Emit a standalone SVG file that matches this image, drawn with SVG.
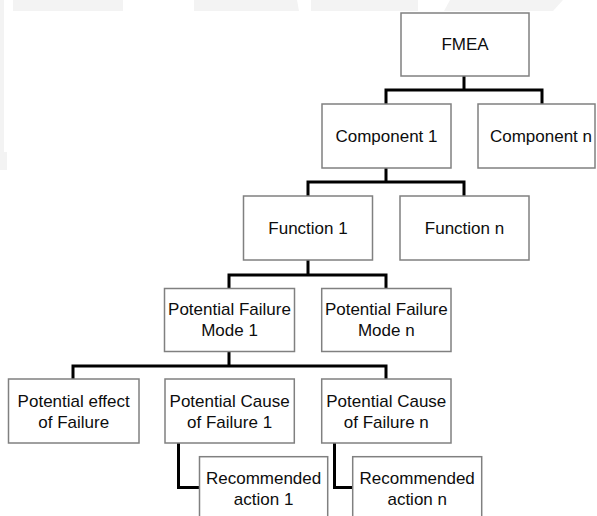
<svg xmlns="http://www.w3.org/2000/svg" width="597" height="516" viewBox="0 0 597 516">
  <style>
    .box { fill: #ffffff; stroke: #808080; stroke-width: 1.5; }
    .lbl { font-family: "Liberation Sans", Arial, sans-serif; font-size: 17px; fill: #0d0d0d; text-anchor: middle; }
    .conn { fill: none; stroke: #000000; stroke-width: 3; stroke-linejoin: miter; }
    .bg { fill: #f3f3f3; }
  </style>
  <rect width="597" height="516" fill="#ffffff"/>
  <g id="background">
    <rect class="bg" x="13" y="0" width="110" height="11"/>
    <path class="bg" d="M194,0 H297 L299,11 H194 Z"/>
    <rect class="bg" x="311" y="0" width="107" height="11"/>
    <path class="bg" d="M450,0 H563 L553,11 H444 Z"/>
    <rect class="bg" x="0" y="0" width="4" height="152"/>
    <rect class="bg" x="0" y="152" width="7" height="18"/>
  </g>
  <g id="connectors">
    <path class="conn" d="M464,76 V90 M386,104 V90 H542 V104"/>
    <path class="conn" d="M386,168 V182 M308,196 V182 H464 V196"/>
    <path class="conn" d="M308,260 V275 M229,288.5 V275 H386 V288.5"/>
    <path class="conn" d="M229,351.5 V366 M73,379 V366 H386 V379"/>
    <path class="conn" d="M178.5,443 V487.5 H199.5"/>
    <path class="conn" d="M334.5,443 V487.5 H352.7"/>
  </g>
  <g id="fmea">
    <rect class="box" x="401" y="13" width="128" height="63"/>
    <text class="lbl" x="465" y="50">FMEA</text>
  </g>
  <g id="component1">
    <rect class="box" x="322" y="104" width="129" height="64"/>
    <text class="lbl" x="386.5" y="142">Component 1</text>
  </g>
  <g id="componentn">
    <rect class="box" x="478" y="104" width="117" height="64"/>
    <text class="lbl" x="541" y="142">Component n</text>
  </g>
  <g id="function1">
    <rect class="box" x="243.5" y="196" width="129" height="64"/>
    <text class="lbl" x="308" y="234">Function 1</text>
  </g>
  <g id="functionn">
    <rect class="box" x="400" y="196" width="129" height="64"/>
    <text class="lbl" x="464.5" y="234">Function n</text>
  </g>
  <g id="failuremode1">
    <rect class="box" x="164.5" y="288.5" width="130" height="63"/>
    <text class="lbl" x="229.5" y="315">Potential Failure</text>
    <text class="lbl" x="229.5" y="335.5">Mode 1</text>
  </g>
  <g id="failuremoden">
    <rect class="box" x="321.7" y="288.5" width="129.3" height="63"/>
    <text class="lbl" x="386.3" y="315">Potential Failure</text>
    <text class="lbl" x="386.3" y="335.5">Mode n</text>
  </g>
  <g id="effect">
    <rect class="box" x="8.5" y="379" width="130.5" height="64"/>
    <text class="lbl" x="73.7" y="406.5">Potential effect</text>
    <text class="lbl" x="73.7" y="427.5">of Failure</text>
  </g>
  <g id="cause1">
    <rect class="box" x="165" y="379" width="129.3" height="64"/>
    <text class="lbl" x="229.6" y="406.5">Potential Cause</text>
    <text class="lbl" x="229.6" y="427.5">of Failure 1</text>
  </g>
  <g id="causen">
    <rect class="box" x="321.7" y="379" width="129.3" height="64"/>
    <text class="lbl" x="386.3" y="406.5">Potential Cause</text>
    <text class="lbl" x="386.3" y="427.5">of Failure n</text>
  </g>
  <g id="action1">
    <rect class="box" x="199.5" y="456.7" width="128.2" height="70"/>
    <text class="lbl" x="263.6" y="484.3">Recommended</text>
    <text class="lbl" x="263.6" y="504.5">action 1</text>
  </g>
  <g id="actionn">
    <rect class="box" x="352.7" y="456.7" width="129" height="70"/>
    <text class="lbl" x="417.2" y="484.3">Recommended</text>
    <text class="lbl" x="417.2" y="504.5">action n</text>
  </g>
</svg>
